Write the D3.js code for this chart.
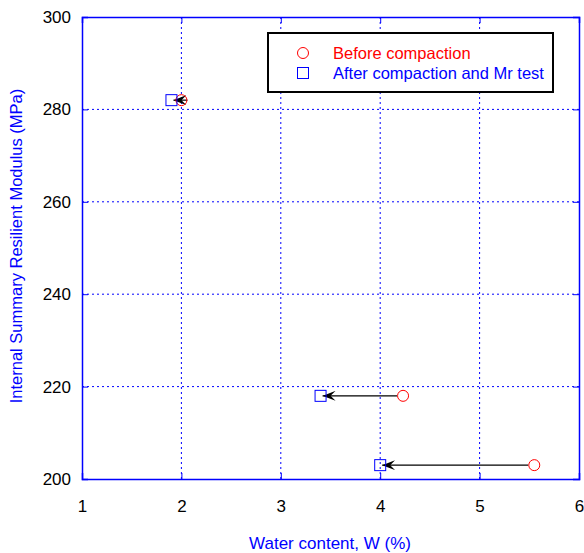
<!DOCTYPE html>
<html>
<head>
<meta charset="utf-8">
<script src="https://cdn.jsdelivr.net/npm/d3@7"></script>
<style>
  body { margin: 0; background: #fff; }
  text { font-family: "Liberation Sans", Arial, sans-serif; }
</style>
</head>
<body>
<div id="chart"></div>
<script>
// values
var beforeW = [2.0, 4.23, 5.55];
var afterW = [1.9, 3.4, 4.0];
var modulus = [282, 218, 203];
var xTicks = [1, 2, 3, 4, 5, 6];
var yTicks = [200, 220, 240, 260, 280, 300];
var legendLabels = ["Before compaction", "After compaction and Mr test"];

var W = 584, H = 553;
var margin = {top: 17, right: 5, bottom: 74, left: 82};
var blue = "#0000ff", red = "#ff0000";

var svg = d3.select("#chart").append("svg")
  .attr("width", W).attr("height", H);

var x = d3.scaleLinear().domain([1, 6]).range([margin.left, W - margin.right]);
var y = d3.scaleLinear().domain([200, 300]).range([H - margin.bottom, margin.top]);

// arrow marker, tip points along the line direction
svg.append("defs").append("marker")
  .attr("id", "arr")
  .attr("viewBox", "0 0 13 10")
  .attr("refX", 13).attr("refY", 5)
  .attr("markerWidth", 13).attr("markerHeight", 10)
  .attr("markerUnits", "userSpaceOnUse")
  .attr("orient", "auto")
  .append("path")
  .attr("d", "M13,5 L0,0 L5,5 L0,10 Z")
  .attr("fill", "#000");

// grid
var grid = svg.append("g");
grid.selectAll("line.gx").data(xTicks.slice(1, -1)).join("line")
  .attr("x1", d => x(d)).attr("x2", d => x(d))
  .attr("y1", y(300)).attr("y2", y(200))
  .attr("stroke", blue).attr("stroke-width", 1).attr("stroke-dasharray", "2,3");
grid.selectAll("line.gy").data(yTicks.slice(1, -1)).join("line")
  .attr("y1", d => y(d)).attr("y2", d => y(d))
  .attr("x1", x(1)).attr("x2", x(6))
  .attr("stroke", blue).attr("stroke-width", 1).attr("stroke-dasharray", "2,3");

// axes
var xAxis = svg.append("g")
  .attr("transform", `translate(0,${y(200)})`)
  .call(d3.axisBottom(x).tickValues(xTicks).tickSize(-6).tickPadding(21).tickFormat(d3.format("d")));
var yAxis = svg.append("g")
  .attr("transform", `translate(${x(1)},0)`)
  .call(d3.axisLeft(y).tickValues(yTicks).tickSize(-6).tickPadding(11).tickFormat(d3.format("d")));
var xAxisTop = svg.append("g")
  .attr("transform", `translate(0,${y(300)})`)
  .call(d3.axisTop(x).tickValues(xTicks).tickSize(-6).tickFormat(""));
var yAxisRight = svg.append("g")
  .attr("transform", `translate(${x(6)},0)`)
  .call(d3.axisRight(y).tickValues(yTicks).tickSize(-6).tickFormat(""));

[xAxis, yAxis, xAxisTop, yAxisRight].forEach(function(g) {
  g.selectAll("path.domain").attr("stroke", blue).attr("stroke-width", 1.5);
  g.selectAll(".tick line").attr("stroke", blue);
  g.selectAll(".tick text").attr("fill", "#000").attr("font-size", 17)
    .attr("font-family", "Liberation Sans, Arial, sans-serif");
});

// axis titles
svg.append("text")
  .attr("x", 330).attr("y", 549)
  .attr("text-anchor", "middle").attr("fill", blue).attr("font-size", 17)
  .text("Water content, W (%)");
svg.append("text")
  .attr("transform", `translate(22,${y(250) - 2}) rotate(-90)`)
  .attr("text-anchor", "middle").attr("fill", blue).attr("font-size", 16.5)
  .text("Internal Summary Resilient Modulus (MPa)");

// arrows from before to after (short ones still get a full arrowhead)
var pts = modulus.map((m, i) => ({b: beforeW[i], a: afterW[i], m: m}));
svg.append("g").selectAll("line").data(pts).join("line")
  .attr("x1", d => Math.max(x(d.b) - 6, x(d.a) + 16)).attr("x2", d => x(d.a) + 2)
  .attr("y1", d => y(d.m)).attr("y2", d => y(d.m))
  .attr("stroke", "#000").attr("stroke-width", 1.2)
  .attr("marker-end", "url(#arr)");

// markers
svg.append("g").selectAll("circle").data(pts).join("circle")
  .attr("cx", d => x(d.b)).attr("cy", d => y(d.m)).attr("r", 5.5)
  .attr("fill", "none").attr("stroke", red).attr("stroke-width", 1);
svg.append("g").selectAll("rect").data(pts).join("rect")
  .attr("x", d => x(d.a) - 5.5).attr("y", d => y(d.m) - 5.5)
  .attr("width", 11).attr("height", 11)
  .attr("fill", "none").attr("stroke", blue).attr("stroke-width", 1);

// legend
var lg = svg.append("g");
lg.append("rect")
  .attr("x", 268).attr("y", 33).attr("width", 285).attr("height", 59)
  .attr("fill", "#fff").attr("stroke", "#000").attr("stroke-width", 2);
lg.append("circle").attr("cx", 303).attr("cy", 53).attr("r", 5.5)
  .attr("fill", "none").attr("stroke", red);
lg.append("rect").attr("x", 297.5).attr("y", 67.5).attr("width", 11).attr("height", 11)
  .attr("fill", "none").attr("stroke", blue);
lg.selectAll("text").data(legendLabels).join("text")
  .attr("x", 333).attr("y", (d, i) => 59 + i * 20)
  .attr("fill", (d, i) => i === 0 ? red : blue)
  .attr("font-size", 16.5)
  .text(d => d);
</script>
</body>
</html>
